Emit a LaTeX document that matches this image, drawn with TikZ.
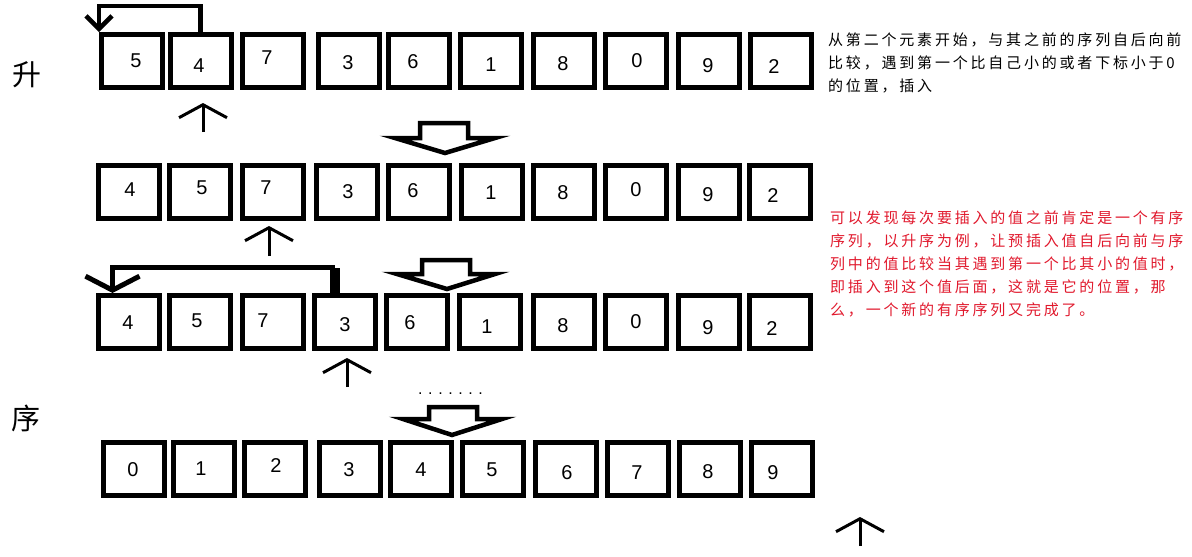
\documentclass[tikz,border=0pt]{standalone}
\usepackage{fontspec}
\setmainfont{Liberation Sans}
\newfontfamily\cjk{Noto Sans CJK SC}
\newfontfamily\cjkls{Noto Sans CJK SC}[LetterSpace=18.7]
\usetikzlibrary{arrows.meta,calc}
\definecolor{notered}{RGB}{225,25,45}
\tikzset{
  cell/.style={draw,line width=5pt,minimum width=61pt,minimum height=53pt,inner sep=0pt},
  digit/.style={font=\fontsize{20}{20}\selectfont,inner sep=0pt},
  uparrow/.style={line width=3pt,-{Straight Barb[length=13pt,width=48pt]}},
  bentone/.style={line width=4.5pt,-{Straight Barb[length=13pt,width=26pt]}},
  bentthree/.style={line width=5pt,-{Straight Barb[length=14pt,width=54pt]}},
  blockarrow/.style={draw,line width=4.5pt,line join=miter,fill=white},
  sidetext/.style={anchor=west,inner sep=0pt,font=\cjkls\fontsize{15}{15}\selectfont},
  bigchar/.style={inner sep=0pt,font=\cjk\fontsize{29}{29}\selectfont}
}
\begin{document}
\begin{tikzpicture}[x=1pt,y=-1pt]
\useasboundingbox (0,0) rectangle (1192,557);
\fill[white] (0,0) rectangle (1192,557);

% row 1
\foreach \i/\cx/\d/\px/\py in {1/132/5/136/61, 2/200.5/4/199/66, 3/272.5/7/267/58, 4/348.5/3/348/63, 5/419/6/413/62, 6/491/1/491/65, 7/563.5/8/563/64, 8/635.5/0/637/61, 9/708.5/9/708/66, 10/781/2/774/67}{
  \node[cell] (r1c\i) at (\cx,61) {};
  \node[digit] (r1d\i) at (\px,\py) {\d};
}
% row 2
\foreach \i/\cx/\d/\px/\py in {1/129/4/130/190, 2/200/5/202/188, 3/272.5/7/266/188, 4/347/3/348/192, 5/419/6/413/191, 6/491.5/1/491/193, 7/563.5/8/563/193, 8/635.5/0/636/190, 9/708.5/9/708/195, 10/779.5/2/773/196}{
  \node[cell] (r2c\i) at (\cx,191.5) {};
  \node[digit] (r2d\i) at (\px,\py) {\d};
}
% row 3
\foreach \i/\cx/\d/\px/\py in {1/128.5/4/128/323, 2/200/5/197/321, 3/272.5/7/263/321, 4/344.5/3/345/325, 5/417/6/410/323, 6/490/1/487/327, 7/563.5/8/563/326, 8/635.5/0/636/322, 9/708.5/9/708/328, 10/780/2/772/329}{
  \node[cell] (r3c\i) at (\cx,322) {};
  \node[digit] (r3d\i) at (\px,\py) {\d};
}
% row 4
\foreach \i/\cx/\d/\px/\py in {1/134/0/133/470, 2/203.5/1/201/469, 3/274.5/2/276/466, 4/350/3/349/470, 5/420.5/4/421/470, 6/493/5/492/470, 7/566/6/567/473, 8/638/7/637/473, 9/710/8/708/472, 10/781.5/9/773/473}{
  \node[cell] (r4c\i) at (\cx,468.5) {};
  \node[digit] (r4d\i) at (\px,\py) {\d};
}

% bent arrow row 1
\draw[bentone] (r1c2.north) -- ++(0,-26) -| (r1c1.north west);

% bent arrow row 3
\draw[line width=10pt] ($(r3c4.north)+(-9.5,0)$) -- ++(0,-25);
\draw[bentthree] ($(r3c4.north)+(-9.5,-26)$) -| ($(r3c1.north)+(-16,0)$);

% up arrows
\coordinate (u1s) at (203,132); \coordinate (u1t) at (203,103);
\draw[uparrow] (u1s) -- (u1t);
\coordinate (u2s) at (269,256); \coordinate (u2t) at (269,226);
\draw[uparrow] (u2s) -- (u2t);
\coordinate (u3s) at (347,387); \coordinate (u3t) at (347,358);
\draw[uparrow] (u3s) -- (u3t);
\coordinate (u4s) at (860,546); \coordinate (u4t) at (860,517);
\draw[uparrow] (u4s) -- (u4t);

% hollow block arrows
\draw[blockarrow] (420,123) -- (468,123) -- (468,138) -- (495,138) -- (445,153) -- (395,138) -- (420,138) -- cycle;
\draw[blockarrow] (422,260) -- (470,260) -- (470,274) -- (495,274) -- (447,289) -- (397,274) -- (422,274) -- cycle;
\draw[blockarrow] (429,407) -- (477,407) -- (477,419) -- (502,419) -- (452,435) -- (403,419) -- (429,419) -- cycle;

% dots
\node[inner sep=0pt,anchor=base west,font=\fontsize{16}{16}\selectfont\addfontfeature{LetterSpace=35}] (dots) at (418,394) {.......};

% side characters
\node[bigchar] (sheng) at (27,75) {升};
\node[bigchar] (xu) at (26,418) {序};

% black note
\node[sidetext] (b1) at (828,40) {从第二个元素开始，与其之前的序列自后向前};
\node[sidetext] (b2) at (828,63) {比较，遇到第一个比自己小的或者下标小于0};
\node[sidetext] (b3) at (828,86) {的位置，插入};

% red note
\node[sidetext,text=notered] (n1) at (830,218) {可以发现每次要插入的值之前肯定是一个有序};
\node[sidetext,text=notered] (n2) at (830,241) {序列，以升序为例，让预插入值自后向前与序};
\node[sidetext,text=notered] (n3) at (830,264) {列中的值比较当其遇到第一个比其小的值时，};
\node[sidetext,text=notered] (n4) at (830,287) {即插入到这个值后面，这就是它的位置，那};
\node[sidetext,text=notered] (n5) at (830,310) {么，一个新的有序序列又完成了。};
\end{tikzpicture}
\end{document}
